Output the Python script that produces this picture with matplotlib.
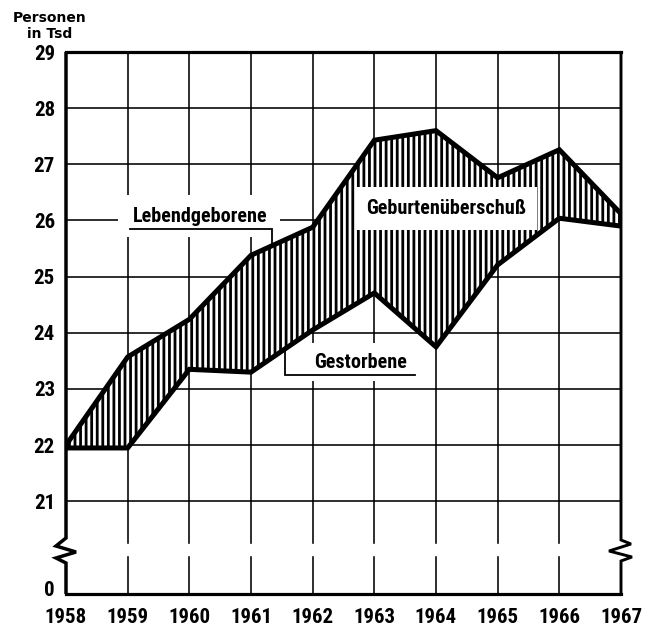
import numpy as np
import matplotlib
matplotlib.use("Agg")
import matplotlib.pyplot as plt
from matplotlib import font_manager
from matplotlib.patches import Rectangle

# ---------------- data ----------------
years = [1958, 1959, 1960, 1961, 1962, 1963, 1964, 1965, 1966, 1967]
lebendgeborene = [22.00, 23.57, 24.24, 25.38, 25.88, 27.43, 27.60, 26.76, 27.26, 26.12]
gestorbene = [21.95, 21.95, 23.35, 23.30, 24.05, 24.71, 23.75, 25.21, 26.04, 25.90]
y_ticks = [21, 22, 23, 24, 25, 26, 27, 28, 29]
y_tick_labels = ["21", "22", "23", "24", "25", "26", "27", "28", "29"]
zero_label = "0"
x_tick_labels = [str(y) for y in years]
label_leb = "Lebendgeborene"
label_gest = "Gestorbene"
label_ueber = "Geburtenüberschuß"
unit_label = "Personen\nin Tsd"

# ---------------- fonts ----------------
names = {f.name for f in font_manager.fontManager.ttflist}
NARROW = dict(family="Roboto", fontweight="bold")
for cand in ["Roboto Condensed", "Liberation Sans Narrow", "Open Sans Condensed"]:
    if cand in names:
        NARROW = dict(family=cand, fontweight="bold")
        break
is_cond = NARROW["family"] != "Roboto"
FS_LAB = 14.5 if is_cond else 13.0
FS_TICK = 15.0 if is_cond else 13.0

plt.rcParams["hatch.linewidth"] = 2.0
plt.rcParams["hatch.color"] = "black"

W, H = 647, 631
fig = plt.figure(figsize=(W / 100, H / 100), dpi=100)
ax = fig.add_axes([66 / W, 1 - 594 / H, 555 / W, 542 / H])

YBOT = 19.35
ax.set_xlim(years[0], years[-1])
ax.set_ylim(YBOT, 29)

PX_X = (years[-1] - years[0]) / 555.0     # years per pixel
PX_Y = (29 - YBOT) / 542.0                 # units per pixel


def px(x, y):
    """figure-pixel -> data coordinates (for annotations only)"""
    return years[0] + (x - 66) * PX_X, 29 - (y - 52) * PX_Y


GRID_LW = 1.15
# horizontal grid
for v in y_ticks[:-1]:
    ax.plot([years[0], years[-1]], [v, v], color="black", lw=GRID_LW, zorder=1)
# vertical grid with gap at axis break
gap_lo, gap_hi = px(0, 557)[1], px(0, 543)[1]
for yr in years[1:-1]:
    ax.plot([yr, yr], [YBOT, gap_lo], color="black", lw=GRID_LW, zorder=1)
    ax.plot([yr, yr], [gap_hi, 29], color="black", lw=GRID_LW, zorder=1)

# spines: top/bottom normal, left/right drawn with zig-zag break
for s in ["left", "right"]:
    ax.spines[s].set_visible(False)
ax.spines["top"].set_linewidth(2.3)
ax.spines["bottom"].set_linewidth(2.3)

left_pts = [(66, 594), (66, 563), (56, 558), (76, 552), (56, 546), (66, 538), (66, 52)]
right_pts = [(621, 594), (621, 561), (632, 557), (609, 551), (631, 544), (621, 540), (621, 52)]
for pts, lw in [(left_pts, 2.5), (right_pts, 2.1)]:
    d = [px(x, y) for x, y in pts]
    ax.plot([p[0] for p in d], [p[1] for p in d], color="black", lw=lw,
            clip_on=False, zorder=5, solid_joinstyle="miter", solid_capstyle="butt")

# white label boxes under the curves
x0, y0 = px(118, 237)
x1, y1 = px(280, 195)
ax.add_patch(Rectangle((x0, y0), x1 - x0, y1 - y0, facecolor="white", edgecolor="none", zorder=1.5))
x0, y0 = px(285, 381)
x1, y1 = px(422, 343)
ax.add_patch(Rectangle((x0, y0), x1 - x0, y1 - y0, facecolor="white", edgecolor="none", zorder=1.5))

# hatched area between curves
ax.fill_between(years, gestorbene, lebendgeborene, facecolor="white", edgecolor="black",
                hatch="|||", linewidth=0, zorder=2)

# curves
ax.plot(years, lebendgeborene, color="black", lw=3.6, solid_joinstyle="miter", zorder=3)
ax.plot(years, gestorbene, color="black", lw=3.6, solid_joinstyle="miter", zorder=3)

# Geburtenüberschuß box inside hatch
x0, y0 = px(355, 230)
x1, y1 = px(537, 187)
ax.add_patch(Rectangle((x0, y0), x1 - x0, y1 - y0, facecolor="white", edgecolor="none", zorder=2.5))
tx, ty = px(446, 209)
ax.text(tx, ty, label_ueber, ha="center", va="center", fontsize=FS_LAB, zorder=4, **NARROW)

# Lebendgeborene label + leader
tx, ty = px(200, 216)
ax.text(tx, ty, label_leb, ha="center", va="center", fontsize=FS_LAB, zorder=4, **NARROW)
ux0, uy = px(130, 229)
ux1, _ = px(272, 229)
ax.plot([ux0, ux1, ux1], [uy, uy, np.interp(ux1, years, lebendgeborene)], color="black",
        lw=1.3, zorder=2.8, solid_joinstyle="miter")

# Gestorbene label + leader
tx, ty = px(361, 362)
ax.text(tx, ty, label_gest, ha="center", va="center", fontsize=FS_LAB, zorder=4, **NARROW)
gx0, gy = px(285, 375)
gx1, _ = px(415, 375)
ax.plot([gx1, gx0, gx0], [gy, gy, np.interp(gx0, years, gestorbene)], color="black",
        lw=1.3, zorder=2.8, solid_joinstyle="miter")

# ticks
zero_pos = px(0, 588)[1]
ax.set_yticks([zero_pos] + y_ticks)
ax.set_yticklabels([zero_label] + y_tick_labels, fontsize=FS_TICK, **NARROW)
ax.set_xticks(years)
ax.set_xticklabels(x_tick_labels, fontsize=FS_TICK, **NARROW)
ax.tick_params(axis="y", length=0, pad=8)
ax.tick_params(axis="x", length=0, pad=10)

# unit label
fig.text(50 / W, 1 - 26 / H, unit_label, ha="center", va="center", fontsize=10,
         fontweight="bold", family="DejaVu Sans", linespacing=1.15)

fig.savefig("out.png", dpi=100, facecolor="white")
